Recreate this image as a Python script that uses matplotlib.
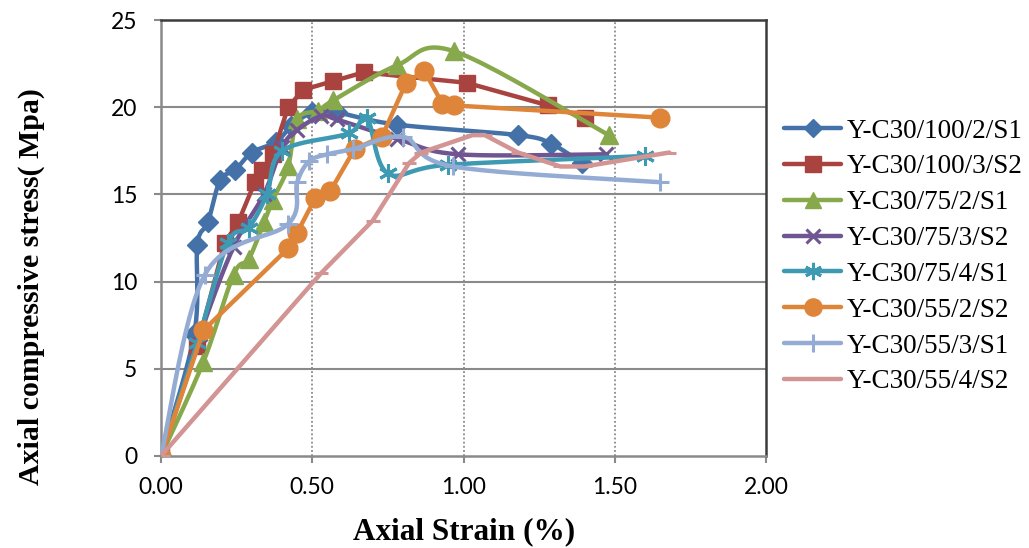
import numpy as np
import matplotlib
matplotlib.use("Agg")
import matplotlib.pyplot as plt
from matplotlib.lines import Line2D

# Stress-strain curves of the confined concrete specimens
labels = ["Y-C30/100/2/S1", "Y-C30/100/3/S2", "Y-C30/75/2/S1", "Y-C30/75/3/S2",
          "Y-C30/75/4/S1", "Y-C30/55/2/S2", "Y-C30/55/3/S1", "Y-C30/55/4/S2"]

strain_100_2 = [0, 0.11, 0.12, 0.155, 0.195, 0.245, 0.30, 0.38, 0.43, 0.50, 0.58, 0.78, 1.18, 1.29, 1.39]
stress_100_2 = [0, 7.0, 12.1, 13.4, 15.8, 16.4, 17.4, 18.0, 18.9, 19.7, 19.7, 19.0, 18.4, 17.9, 16.8]

strain_100_3 = [0, 0.12, 0.21, 0.255, 0.31, 0.335, 0.37, 0.42, 0.47, 0.57, 0.67, 1.01, 1.28, 1.40]
stress_100_3 = [0, 6.3, 12.2, 13.4, 15.7, 16.4, 17.3, 20.0, 21.0, 21.5, 22.0, 21.4, 20.1, 19.4]

strain_75_2 = [0, 0.14, 0.24, 0.29, 0.34, 0.37, 0.42, 0.45, 0.52, 0.57, 0.78, 0.97, 1.48]
stress_75_2 = [0, 5.4, 10.4, 11.3, 13.4, 14.7, 16.6, 19.3, 19.8, 20.4, 22.4, 23.2, 18.4]

strain_75_3 = [0, 0.13, 0.24, 0.34, 0.40, 0.45, 0.53, 0.58, 0.78, 0.98, 1.47]
stress_75_3 = [0, 7.0, 12.0, 15.0, 17.7, 18.7, 19.5, 19.3, 18.2, 17.3, 17.3]

strain_75_4 = [0, 0.12, 0.22, 0.29, 0.35, 0.40, 0.62, 0.68, 0.75, 0.95, 1.60]
stress_75_4 = [0, 6.5, 12.2, 13.1, 15.0, 17.5, 18.5, 19.4, 16.2, 16.7, 17.2]

strain_55_2 = [0, 0.14, 0.42, 0.45, 0.51, 0.56, 0.64, 0.73, 0.81, 0.87, 0.93, 0.97, 1.65]
stress_55_2 = [0, 7.2, 11.9, 12.8, 14.8, 15.2, 17.6, 18.3, 21.4, 22.1, 20.2, 20.1, 19.4]

strain_55_3 = [0, 0.145, 0.42, 0.45, 0.49, 0.55, 0.635, 0.80, 0.965, 1.65]
stress_55_3 = [0, 10.4, 13.3, 15.7, 16.9, 17.3, 17.6, 18.3, 16.6, 15.7]

strain_55_4 = [0, 0.53, 0.70, 0.82, 0.86, 1.03, 1.07, 1.18, 1.32, 1.40, 1.68]
stress_55_4 = [0, 10.5, 13.5, 16.8, 17.4, 18.4, 18.4, 17.4, 16.6, 16.6, 17.4]

x_ticks = [0.0, 0.5, 1.0, 1.5, 2.0]
x_tick_labels = ["0.00", "0.50", "1.00", "1.50", "2.00"]
y_ticks = [0, 5, 10, 15, 20, 25]

series = [
    (strain_100_2, stress_100_2, "#4472A8", "D", 10.5, True),
    (strain_100_3, stress_100_3, "#A9433F", "s", 12, False),
    (strain_75_2, stress_75_2, "#88A84C", "^", 12.5, True),
    (strain_75_3, stress_75_3, "#6F5592", "x", 10.5, True),
    (strain_75_4, stress_75_4, "#3E9AB2", (6, 2, 0), 13.5, True),
    (strain_55_2, stress_55_2, "#DE8539", "o", 13.5, False),
    (strain_55_3, stress_55_3, "#94ACD3", "+", 13.5, True),
    (strain_55_4, stress_55_4, "#D39494", "_", 10, False),
]


def smooth_curve(xs, ys, n=24):
    """Bezier smoothing through the points (Catmull-Rom tangents)."""
    P = np.column_stack([xs, ys]).astype(float)
    out = [P[0]]
    t = np.linspace(0, 1, n)[1:, None]
    for i in range(len(P) - 1):
        p0 = P[i - 1] if i > 0 else P[i]
        p1, p2 = P[i], P[i + 1]
        p3 = P[i + 2] if i + 2 < len(P) else P[i + 1]
        c1 = p1 + (p2 - p0) / 6.0
        c2 = p2 - (p3 - p1) / 6.0
        seg = ((1 - t) ** 3) * p1 + 3 * ((1 - t) ** 2) * t * c1 \
            + 3 * (1 - t) * (t ** 2) * c2 + (t ** 3) * p2
        out.extend(seg)
    out = np.array(out)
    return out[:, 0], out[:, 1]


plt.rcParams["font.family"] = ["Liberation Serif", "DejaVu Serif"]

fig = plt.figure(figsize=(10.29, 5.48), dpi=100)
ax = fig.add_axes([0.1565, 0.168, 0.588, 0.7955])

grid_col = "#8a8a8a"
for yv in y_ticks[1:-1]:
    ax.axhline(yv, color=grid_col, lw=1.5, zorder=0)
for xv in x_ticks[1:-1]:
    ax.axvline(xv, color=grid_col, lw=1.3, ls=(0, (1, 1.3)), zorder=0)

handles = []
for k, ((xs, ys, col, mk, ms, smooth), lab) in enumerate(zip(series, labels)):
    if smooth:
        lx, ly = smooth_curve(xs, ys)
    else:
        lx, ly = xs, ys
    ax.plot(lx, ly, color=col, lw=3.2, solid_joinstyle="round",
            solid_capstyle="round", zorder=2 + 2 * k)
    mew = 2.2 if mk in ("x", "+", "_") or isinstance(mk, tuple) else 1
    ax.plot(xs, ys, ls="none", marker=mk, ms=ms, color=col, mec=col, mew=mew,
            zorder=3 + 2 * k)
    handles.append(Line2D([], [], color=col, lw=3.2, marker=mk, ms=ms * 0.92,
                          mec=col, mew=mew, solid_capstyle="round"))

ax.set_xlim(0, 2.0)
ax.set_ylim(0, 25)
ax.set_xticks(x_ticks)
ax.set_xticklabels(x_tick_labels)
ax.set_yticks(y_ticks)
ax.tick_params(axis="both", labelsize=16.5, color=grid_col, length=5, width=1.5,
               direction="out")
ax.tick_params(axis="x", pad=10)
ax.tick_params(axis="y", pad=12)
for lbl in ax.get_xticklabels() + ax.get_yticklabels():
    lbl.set_family(["Lato", "DejaVu Sans"])

for side in ("left", "bottom"):
    ax.spines[side].set_color(grid_col)
    ax.spines[side].set_linewidth(1.8)
for side in ("top", "right"):
    ax.spines[side].set_color("#3c3c3c")
    ax.spines[side].set_linewidth(1.8)

ax.set_xlabel("Axial Strain (%)", fontsize=22.5, fontweight="bold", va="center")
ax.xaxis.set_label_coords(0.5, -0.174)
ax.set_ylabel("Axial compressive stress( Mpa)", fontsize=21.5, fontweight="bold",
              va="center")
ax.yaxis.set_label_coords(-0.215, 0.388)

fig.legend(handles, labels, loc="center left", bbox_to_anchor=(0.762, 0.532),
           frameon=False, fontsize=19.5, handlelength=2.1, handletextpad=0.2,
           labelspacing=0.4, borderpad=0, borderaxespad=0, numpoints=1)

fig.savefig("out.png", dpi=100)
